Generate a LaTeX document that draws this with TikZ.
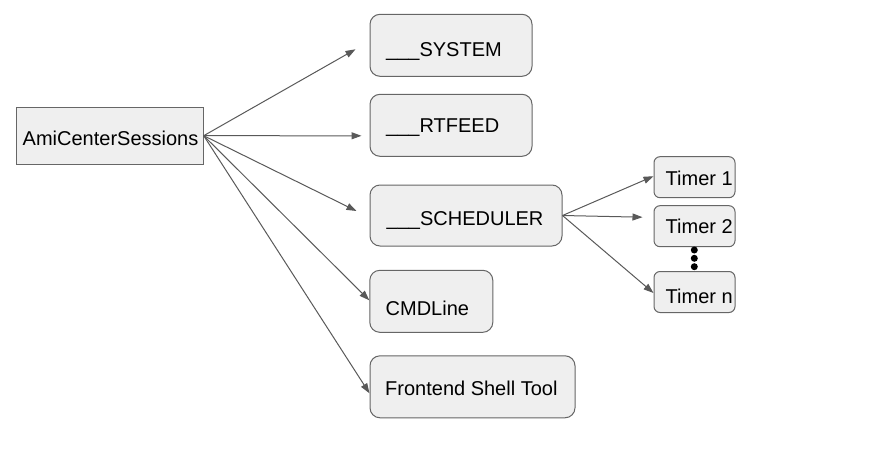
\documentclass[tikz,border=0pt]{standalone}
\usepackage{fontspec}
\setmainfont{Liberation Sans}
\usetikzlibrary{arrows.meta}
\definecolor{boxfill}{RGB}{239,239,239}
\definecolor{boxline}{RGB}{102,102,102}
\definecolor{arrcol}{RGB}{89,89,89}
\begin{document}
\begin{tikzpicture}[x=1pt,y=-1pt,
  box/.style={draw=boxline, fill=boxfill, line width=1pt, inner sep=0pt, rectangle},
  bigbox/.style={box, rounded corners=10pt},
  tbox/.style={box, rounded corners=6pt, minimum width=81pt, minimum height=41pt},
  txt/.style={anchor=base west, inner sep=0pt, font=\fontsize{20}{24}\selectfont},
  arr/.style={draw=arrcol, line width=1pt, -{Triangle[length=10pt,width=7pt]}},
  dotnode/.style={circle, fill=black, inner sep=0pt, minimum size=7pt}
]
\useasboundingbox (0,0) rectangle (875,463);

% boxes
\node[box, minimum width=187pt, minimum height=57pt] (ami) at (109.7,135.7) {};
\node[bigbox, minimum width=162pt, minimum height=62pt] (sys) at (451,45.3) {};
\node[bigbox, minimum width=162pt, minimum height=62pt] (rt) at (451,125.3) {};
\node[bigbox, minimum width=192pt, minimum height=61pt] (sch) at (466,215.5) {};
\node[bigbox, minimum width=123pt, minimum height=62pt] (cmd) at (431.3,301.3) {};
\node[bigbox, minimum width=205pt, minimum height=62pt] (fst) at (472.5,386.8) {};
\node[tbox] (t1) at (694.5,177.2) {};
\node[tbox] (t2) at (694.5,226.2) {};
\node[tbox] (tn) at (694.5,292) {};

% texts
\node[txt] (amitxt) at (22.5,145) {AmiCenterSessions};
\node[txt] (systxt) at (386,56.5) {\_\_\_SYSTEM};
\node[txt] (rttxt) at (386,132.7) {\_\_\_RTFEED};
\node[txt] (schtxt) at (386.5,225) {\_\_\_SCHEDULER};
\node[txt] (cmdtxt) at (385.5,315) {CMDLine};
\node[txt] (fsttxt) at (385,395.7) {Frontend Shell Tool};
\node[txt] (t1txt) at (665.5,185) {Timer 1};
\node[txt] (t2txt) at (665.5,233.3) {Timer 2};
\node[txt] (tntxt) at (665.5,303.3) {Timer n};

% dots
\node[dotnode] (d1) at (694.3,250) {};
\node[dotnode] (d2) at (694.3,258.3) {};
\node[dotnode] (d3) at (694.3,266.7) {};

% connectors
\draw[arr] (ami.east) -- ([shift={(-14,4)}]sys.west);
\draw[arr] (ami.east) -- ([shift={(-8,10.5)}]rt.west);
\draw[arr] (ami.east) -- ([shift={(-13,-4.5)}]sch.west);
\draw[arr] (ami.east) -- ([shift={(0,-1)}]cmd.west);
\draw[arr] (ami.east) -- ([shift={(0,6.5)}]fst.west);
\draw[arr] (sch.east) -- ([shift={(0,-1)}]t1.west);
\draw[arr] (sch.east) -- ([shift={(-11,-9)}]t2.west);
\draw[arr] (sch.east) -- ([shift={(0,1)}]tn.west);
\end{tikzpicture}
\end{document}
